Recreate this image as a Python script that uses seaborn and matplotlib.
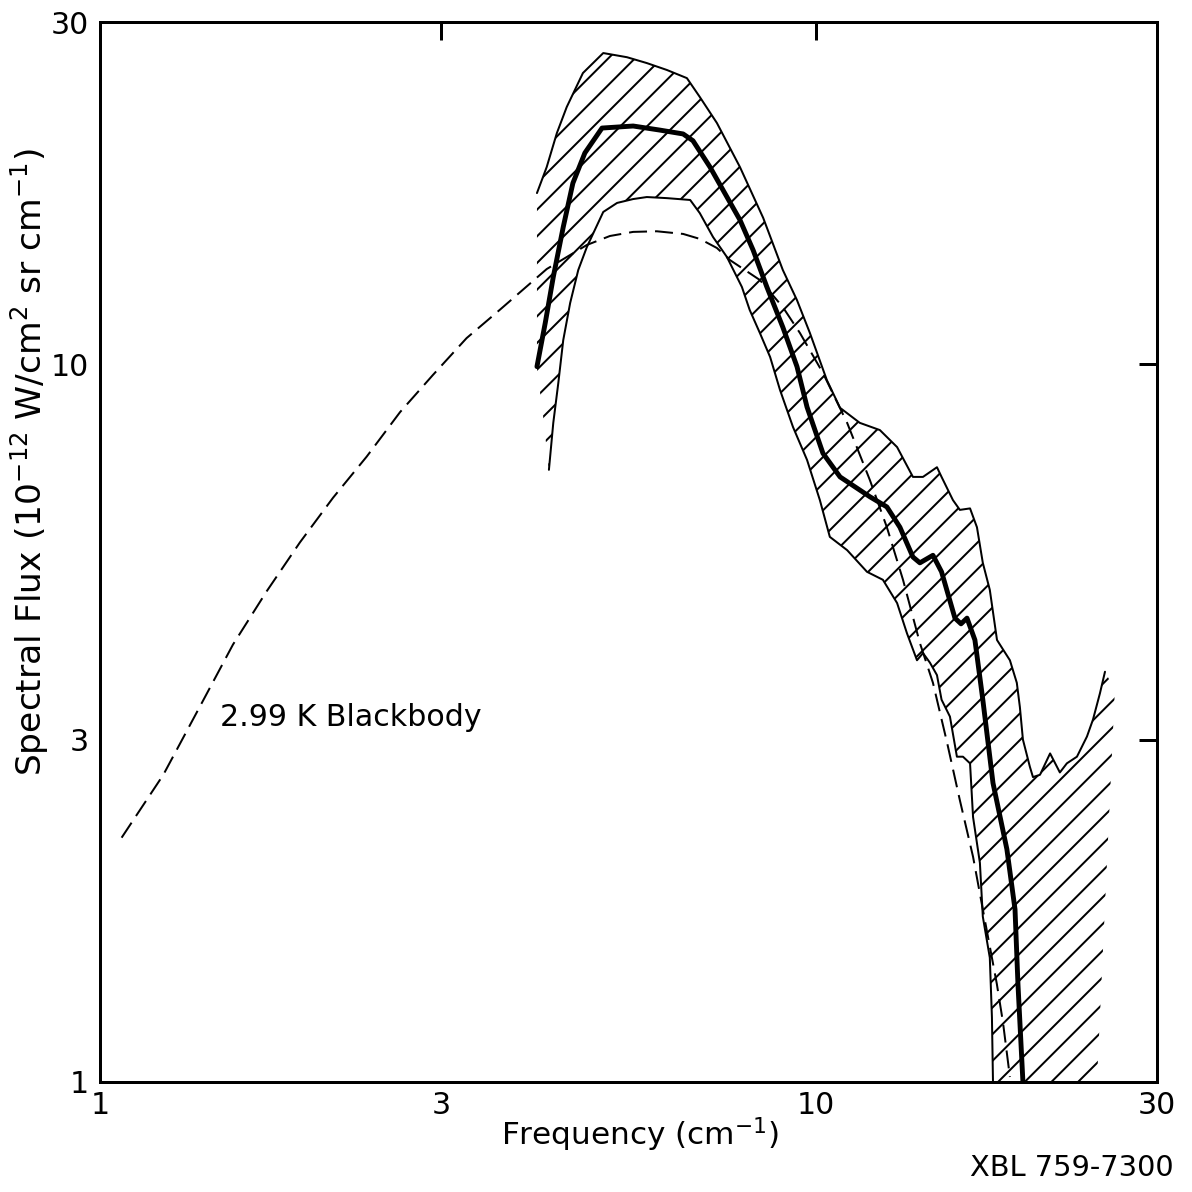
import seaborn as sns
import matplotlib.pyplot as plt
import pandas as pd

sns.set_theme(style="white")
plt.rcParams['font.family'] = ['DejaVu Sans']
plt.rcParams['text.color'] = 'black'
plt.rcParams['axes.labelcolor'] = 'black'
plt.rcParams['hatch.linewidth'] = 0.9
plt.rcParams['hatch.color'] = 'black'

# 2.99 K blackbody curve (dashed)
bb_freq = [1.072, 1.226, 1.380, 1.534, 1.710, 1.903, 2.117, 2.359, 2.626, 2.920, 3.253, 3.622,
           4.21, 4.79, 5.16, 5.56, 6.00, 6.53, 6.89, 7.28, 7.59, 8.36, 9.00, 9.51, 10.24, 11.07,
           11.91, 12.58, 13.25, 13.99, 14.59, 15.27, 15.91, 16.6, 17.13, 17.92, 18.28, 18.69]
bb_flux = [2.19, 2.68, 3.34, 4.07, 4.83, 5.65, 6.52, 7.44, 8.58, 9.67, 10.88, 11.92,
           13.58, 14.67, 15.1, 15.3, 15.33, 15.2, 14.96, 14.53, 13.98, 13.11, 12.02, 11.06, 9.73, 8.29,
           6.90, 5.93, 5.01, 4.09, 3.60, 2.97, 2.47, 2.06, 1.74, 1.37, 1.21, 1.016]

# measured spectrum (thick line)
meas_freq = [4.08, 4.19, 4.30, 4.44, 4.58, 4.76, 5.03, 5.56, 6.06, 6.53, 6.74, 7.12, 7.52, 7.84,
             8.18, 8.55, 9.00, 9.42, 9.73, 10.24, 10.82, 11.91, 12.58, 13.12, 13.68, 13.99, 14.59,
             15.0, 15.66, 15.97, 16.28, 16.70, 17.13, 17.70, 18.51, 19.00, 19.18, 19.49]
meas_flux = [9.93, 11.42, 13.24, 15.54, 17.89, 19.71, 21.35, 21.49, 21.21, 20.95, 20.5, 18.84, 17.11, 15.90,
             14.43, 12.82, 11.27, 9.93, 8.72, 7.52, 6.97, 6.54, 6.33, 5.93, 5.39, 5.29, 5.42,
             5.14, 4.43, 4.35, 4.43, 4.13, 3.41, 2.61, 2.11, 1.74, 1.37, 1.0]

# upper edge of the error band
up_freq = [4.08, 4.21, 4.35, 4.49, 4.73, 5.05, 5.45, 5.81, 6.20, 6.61, 6.89, 7.28, 7.84, 8.45, 9.00,
           9.42, 9.82, 10.37, 10.82, 11.53, 12.30, 13.0, 13.68, 14.13, 14.78, 15.0, 15.56, 15.91,
           16.44, 16.81, 17.13, 17.52, 17.93, 18.69, 19.11, 19.30, 19.49, 19.93, 20.13, 20.59,
           21.27, 21.95, 22.45, 23.19, 23.95, 24.42, 24.97, 25.38]
up_flux = [17.33, 18.84, 21.01, 22.84, 25.47, 27.16, 26.8, 26.3, 25.72, 25.06, 23.59, 21.7, 18.84, 16.0, 13.54,
           12.29, 11.06, 9.51, 8.70, 8.29, 8.10, 7.67, 6.97, 6.97, 7.19, 6.97, 6.47, 6.27,
           6.30, 5.93, 5.29, 4.85, 4.13, 3.87, 3.60, 3.33, 3.00, 2.75, 2.66, 2.68,
           2.87, 2.70, 2.78, 2.84, 3.03, 3.20, 3.48, 3.73]

# lower edge of the error band
lo_freq = [4.24, 4.30, 4.37, 4.44, 4.54, 4.66, 4.79, 5.05, 5.28, 5.56, 5.81, 6.20, 6.68, 6.89, 7.19,
           7.52, 7.89, 8.09, 8.36, 8.64, 8.92, 9.30, 9.73, 10.14, 10.47, 11.07, 11.80, 12.42, 13.0,
           13.42, 13.86, 14.13, 14.45, 14.78, 15.0, 15.41, 15.76, 16.07, 16.44, 16.6, 16.97, 17.13,
           17.52, 17.64, 17.70]
lo_flux = [7.13, 8.29, 9.42, 10.81, 12.18, 13.54, 14.57, 16.31, 16.79, 17.0, 17.11, 17.05, 16.95, 16.25, 15.05,
           14.11, 12.82, 11.91, 11.06, 10.24, 9.21, 8.18, 7.36, 6.47, 5.75, 5.51, 5.14, 5.01, 4.65,
           4.22, 3.87, 3.96, 3.84, 3.69, 3.41, 3.23, 2.84, 2.84, 2.78, 2.34, 2.02, 1.70,
           1.49, 1.23, 1.0]

# open ends of the hatched region (right tail and left start)
right_edge_freq = [26.2, 24.73]
right_edge_flux = [3.52, 1.0]
left_edge_freq = [4.16, 4.08]
left_edge_flux = [8.50, 9.87]

ticks = [1, 3, 10, 30]
tick_labels = ['1', '3', '10', '30']

fig = plt.figure(figsize=(7.45, 7.45), dpi=160)
ax = fig.add_axes([0.0839, 0.0923, 0.8867, 0.8892])
ax.set_xscale('log')
ax.set_yscale('log')

hatch_x = up_freq + right_edge_freq + lo_freq[::-1] + left_edge_freq
hatch_y = up_flux + right_edge_flux + lo_flux[::-1] + left_edge_flux
ax.fill(hatch_x, hatch_y, facecolor='none', edgecolor='black', linewidth=0, hatch='//')

band = pd.DataFrame({'f': up_freq, 's': up_flux})
sns.lineplot(data=band, x='f', y='s', sort=False, estimator=None, color='black', lw=0.9, ax=ax)
band = pd.DataFrame({'f': lo_freq, 's': lo_flux})
sns.lineplot(data=band, x='f', y='s', sort=False, estimator=None, color='black', lw=0.9, ax=ax)
sns.lineplot(x=meas_freq, y=meas_flux, sort=False, estimator=None, color='black', lw=2.2, ax=ax)
sns.lineplot(x=bb_freq, y=bb_flux, sort=False, estimator=None, color='black', lw=0.9,
             linestyle=(0, (9, 4)), ax=ax)

ax.set_xlim(1, 30)
ax.set_ylim(1, 30)
ax.minorticks_off()
ax.set_xticks(ticks)
ax.set_xticklabels(tick_labels)
ax.set_yticks(ticks)
ax.set_yticklabels(tick_labels)
ax.tick_params(axis='both', direction='in', length=8, width=1.35, top=True, right=True,
               labelsize=13.5, colors='black')
ax.tick_params(axis='x', pad=4)
ax.tick_params(axis='y', pad=5)
for sp in ax.spines.values():
    sp.set_color('black')
    sp.set_linewidth(1.35)

ax.set_xlabel('Frequency (cm$^{-1}$)', fontsize=14)
ax.xaxis.set_label_coords(0.511, -0.032)
ax.set_ylabel('Spectral Flux (10$^{-12}$ W/cm$^2$ sr cm$^{-1}$)', fontsize=15.5)
ax.yaxis.set_label_coords(-0.046, 0.585)

ax.text(1.472, 3.216, '2.99 K Blackbody', fontsize=13.5, ha='left', va='center')
fig.text(0.985, 0.020, 'XBL 759-7300', fontsize=13, ha='right', va='center')

fig.savefig('out.png', dpi=160)
